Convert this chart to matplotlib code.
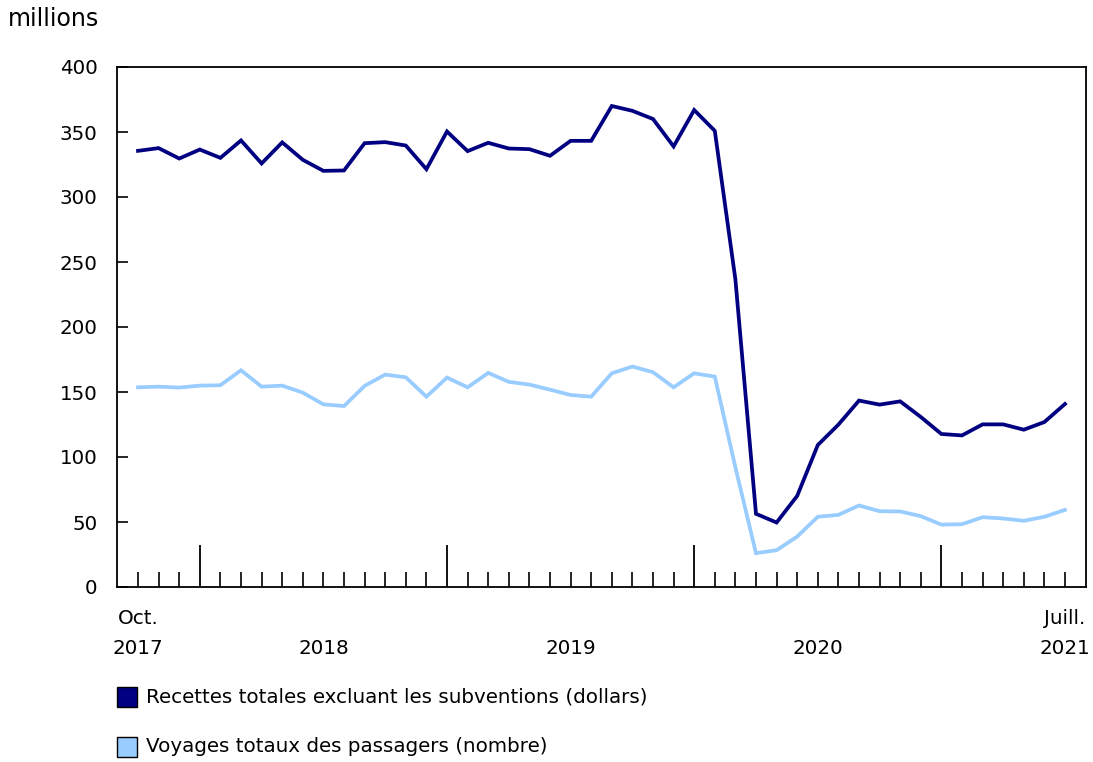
import matplotlib
matplotlib.use("Agg")
import matplotlib.pyplot as plt
import matplotlib.transforms as mtransforms
from matplotlib.patches import Rectangle

# Monthly data, Oct 2017 to Jul 2021 (millions)
months = ["Oct 2017", "Nov 2017", "Dec 2017",
          "Jan 2018", "Feb 2018", "Mar 2018", "Apr 2018", "May 2018", "Jun 2018",
          "Jul 2018", "Aug 2018", "Sep 2018", "Oct 2018", "Nov 2018", "Dec 2018",
          "Jan 2019", "Feb 2019", "Mar 2019", "Apr 2019", "May 2019", "Jun 2019",
          "Jul 2019", "Aug 2019", "Sep 2019", "Oct 2019", "Nov 2019", "Dec 2019",
          "Jan 2020", "Feb 2020", "Mar 2020", "Apr 2020", "May 2020", "Jun 2020",
          "Jul 2020", "Aug 2020", "Sep 2020", "Oct 2020", "Nov 2020", "Dec 2020",
          "Jan 2021", "Feb 2021", "Mar 2021", "Apr 2021", "May 2021", "Jun 2021",
          "Jul 2021"]

revenue = [335.5, 337.6, 329.6, 336.5, 330.1, 343.5, 325.8, 342.0, 328.6, 320.1,
           320.4, 341.4, 342.2, 339.6, 321.4, 350.4, 335.3, 341.7, 337.3, 336.8,
           331.7, 343.2, 343.2, 370.0, 366.3, 360.0, 338.9, 366.9, 350.9, 236.6,
           56.3, 49.6, 70.1, 109.2, 124.9, 143.4, 140.3, 142.8, 130.8, 117.7,
           116.6, 125.1, 125.1, 121.0, 126.9, 140.8]

trips = [153.6, 154.1, 153.4, 154.9, 155.2, 166.7, 154.1, 154.9, 149.5, 140.5,
         139.2, 154.7, 163.4, 161.3, 146.4, 161.1, 153.6, 164.7, 157.8, 155.7,
         151.8, 147.7, 146.4, 164.4, 169.6, 165.2, 153.6, 164.4, 161.8, 92.0,
         26.0, 28.3, 38.8, 54.0, 55.5, 62.7, 58.3, 58.1, 54.5, 48.0,
         48.3, 53.7, 52.7, 50.9, 54.0, 59.3]

series_labels = ["Recettes totales excluant les subventions (dollars)",
                 "Voyages totaux des passagers (nombre)"]
year_labels = ["2018", "2019", "2020"]
y_ticks = [0, 50, 100, 150, 200, 250, 300, 350, 400]

dark = "#000080"
light = "#99ccff"
FS = 14.3

W, H = 1093, 762
fig = plt.figure(figsize=(W / 100, H / 100), dpi=100)
ax = fig.add_axes([117 / W, 1 - 587 / H, (1086 - 117) / W, (587 - 67) / H])

x = list(range(len(months)))
ax.plot(x, revenue, color=dark, lw=2.7, solid_joinstyle="miter")
ax.plot(x, trips, color=light, lw=2.7, solid_joinstyle="miter")

ax.set_xlim(-1.02, len(months) - 1 + 1.02)
ax.set_ylim(0, 400)

for s in ax.spines.values():
    s.set_linewidth(1.3)
    s.set_color("black")

ax.set_yticks(y_ticks)
ax.set_yticklabels([str(v) for v in y_ticks], fontsize=FS)
ax.tick_params(axis="y", direction="in", length=8, width=1.2, pad=14)

jan_idx = [i for i, m in enumerate(months) if m.startswith("Jan")]
other_idx = [i for i in x if i not in jan_idx]
ax.set_xticks(jan_idx)
ax.set_xticks(other_idx, minor=True)
ax.set_xticklabels([])
ax.tick_params(axis="x", which="major", direction="in", length=30, width=1.3)
ax.tick_params(axis="x", which="minor", direction="in", length=11, width=1.2)

trans = mtransforms.blended_transform_factory(ax.transData, fig.transFigure)
y1 = 1 - 619 / H
y2 = 1 - 649 / H
ax.text(0, y1, "Oct.", transform=trans, ha="center", va="center", fontsize=FS)
ax.text(0, y2, "2017", transform=trans, ha="center", va="center", fontsize=FS)
ax.text(x[-1], y1, "Juill.", transform=trans, ha="center", va="center", fontsize=FS)
ax.text(x[-1], y2, "2021", transform=trans, ha="center", va="center", fontsize=FS)
bounds = jan_idx
for k, lab in enumerate(year_labels):
    xc = (bounds[k] + bounds[k + 1]) / 2
    ax.text(xc, y2, lab, transform=trans, ha="center", va="center", fontsize=FS)

fig.text(8 / W, 1 - 19 / H, "millions", ha="left", va="center", fontsize=17)

# legend
for (yc, col, lab) in [(697, dark, series_labels[0]), (747, light, series_labels[1])]:
    fig.add_artist(Rectangle((117 / W, 1 - (yc + 10) / H), 20 / W, 20 / H,
                             transform=fig.transFigure, facecolor=col,
                             edgecolor="black", lw=1.0))
    fig.text(146 / W, 1 - yc / H, lab, ha="left", va="center", fontsize=FS)

fig.savefig("out.png", dpi=100)
